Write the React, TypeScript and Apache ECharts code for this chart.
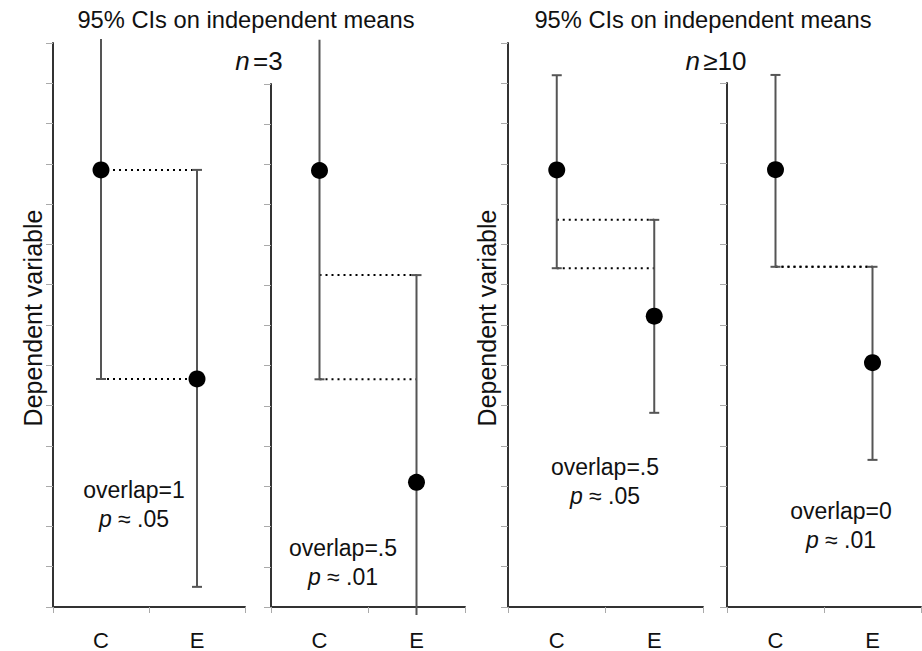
import { useEffect, useRef } from "react";
import * as echarts from "echarts";

// Groups on each x axis
const groups = ["C", "E"];

// Four panels: n=3 (overlap 1), n=3 (overlap .5), n≥10 (overlap .5), n≥10 (overlap 0)
const meansC = [10.85, 10.85, 10.85, 10.85];
const lowerC = [5.66, 5.66, 8.41, 8.44];
const upperC = [16.04, 16.04, 13.2, 13.2];
const meansE = [5.66, 3.1, 7.22, 6.06];
const lowerE = [0.5, -2.05, 4.82, 3.65];
const upperE = [10.85, 8.25, 9.61, 8.44];
const axisMax = [14, 13, 14, 13];

const overlapLabels = ["overlap=1", "overlap=.5", "overlap=.5", "overlap=0"];
const pValues = [".05", ".01", ".05", ".01"];
const panelTitle = "95% CIs on independent means";
const sampleSizes = ["=3", "≥10"];
const yName = "Dependent variable";

// vertical extent in which interval lines are still drawn
const visibleRange = [-0.2, 14.1];

const FONT = "'Liberation Sans', Arial, Helvetica, sans-serif";

const grids = [
  { left: 53, top: 43, width: 192, height: 564 },
  { left: 271, top: 84, width: 194, height: 523 },
  { left: 508, top: 43, width: 195, height: 564 },
  { left: 727, top: 83, width: 194, height: 524 },
];

const overlapPos = [
  [134, 490],
  [343, 548],
  [605, 467],
  [841, 511],
];

function buildOption() {
  const xAxis = grids.map((_, i) => ({
    type: "category",
    gridIndex: i,
    data: groups,
    boundaryGap: true,
    axisLine: { lineStyle: { color: "#333", width: 2 } },
    axisTick: { show: true, length: 6, lineStyle: { color: "#aaa", width: 1 } },
    axisLabel: { fontSize: 22, color: "#111", margin: 22, fontFamily: FONT },
  }));
  const yAxis = grids.map((_, i) => ({
    type: "value",
    gridIndex: i,
    min: 0,
    max: axisMax[i],
    interval: 1,
    axisLine: { show: true, lineStyle: { color: "#333", width: 2 } },
    axisTick: { show: true, length: 7, lineStyle: { color: "#aaa", width: 1 } },
    axisLabel: { show: false },
    splitLine: { show: false },
  }));

  const series: any[] = [];
  grids.forEach((_, i) => {
    // dotted guides at the lower limit of C and the upper limit of E
    series.push({
      type: "custom",
      xAxisIndex: i,
      yAxisIndex: i,
      clip: false,
      z: 2,
      encode: { x: [0, 1], y: 2 },
      data: [
        [0, 1, lowerC[i]],
        [0, 1, upperE[i]],
      ],
      renderItem: (_p: any, api: any) => {
        const y = api.value(2);
        const a = api.coord([0, y]);
        const b = api.coord([1, y]);
        return {
          type: "line",
          shape: { x1: a[0], y1: a[1], x2: b[0], y2: b[1] },
          style: { stroke: "#000", lineWidth: 2, lineDash: [2, 4] },
        };
      },
    });
    // confidence intervals
    series.push({
      type: "custom",
      xAxisIndex: i,
      yAxisIndex: i,
      clip: false,
      z: 3,
      encode: { x: 0, y: [1, 2] },
      data: [
        [0, lowerC[i], upperC[i]],
        [1, lowerE[i], upperE[i]],
      ],
      renderItem: (_p: any, api: any) => {
        const x = api.value(0);
        const lo = api.value(1);
        const hi = api.value(2);
        const loC = Math.max(lo, visibleRange[0]);
        const hiC = Math.min(hi, visibleRange[1]);
        const top = api.coord([x, hiC]);
        const bot = api.coord([x, loC]);
        const stroke = { stroke: "#555", lineWidth: 2 };
        const children: any[] = [
          { type: "line", shape: { x1: top[0], y1: top[1], x2: bot[0], y2: bot[1] }, style: stroke },
        ];
        const half = 5;
        if (hi === hiC) {
          children.push({
            type: "line",
            shape: { x1: top[0] - half, y1: top[1], x2: top[0] + half, y2: top[1] },
            style: stroke,
          });
        }
        if (lo === loC) {
          children.push({
            type: "line",
            shape: { x1: bot[0] - half, y1: bot[1], x2: bot[0] + half, y2: bot[1] },
            style: stroke,
          });
        }
        return { type: "group", children };
      },
    });
    // means
    series.push({
      type: "scatter",
      xAxisIndex: i,
      yAxisIndex: i,
      z: 5,
      symbolSize: 17,
      itemStyle: { color: "#000", opacity: 1 },
      data: [
        [0, meansC[i]],
        [1, meansE[i]],
      ],
    });
  });

  const graphic: any[] = [];
  [246, 703].forEach((cx, k) => {
    graphic.push({
      type: "text",
      x: cx,
      y: 20,
      style: {
        text: panelTitle,
        font: `23.7px ${FONT}`,
        fill: "#111",
        align: "center",
        verticalAlign: "middle",
      },
    });
    graphic.push({
      type: "text",
      x: [259, 716][k],
      y: 61,
      style: {
        text: `{i|n}{s| }{r|${sampleSizes[k]}}`,
        fontSize: 26,
        fontFamily: FONT,
        fill: "#111",
        align: "center",
        verticalAlign: "middle",
        rich: {
          i: { fontStyle: "italic", fontSize: 26, fontFamily: FONT, fill: "#111" },
          s: { fontSize: 12, fontFamily: FONT, fill: "#111" },
          r: { fontSize: 26, fontFamily: FONT, fill: "#111" },
        },
      },
    });
    graphic.push({
      type: "text",
      x: [33, 487][k],
      y: 318,
      rotation: Math.PI / 2,
      style: {
        text: yName,
        font: `25px ${FONT}`,
        fill: "#111",
        align: "center",
        verticalAlign: "middle",
      },
    });
  });
  overlapPos.forEach(([cx, cy], i) => {
    graphic.push({
      type: "text",
      x: cx,
      y: cy,
      style: {
        text: overlapLabels[i],
        font: `23px ${FONT}`,
        fill: "#111",
        align: "center",
        verticalAlign: "middle",
      },
    });
    graphic.push({
      type: "text",
      x: cx,
      y: cy + 29,
      style: {
        text: `{i|p}{r| ≈ ${pValues[i]}}`,
        fontSize: 23,
        fontFamily: FONT,
        fill: "#111",
        align: "center",
        verticalAlign: "middle",
        rich: {
          i: { fontStyle: "italic", fontSize: 23, fontFamily: FONT, fill: "#111" },
          r: { fontSize: 23, fontFamily: FONT, fill: "#111" },
        },
      },
    });
  });

  return {
    animation: false,
    backgroundColor: "#fff",
    grid: grids,
    xAxis,
    yAxis,
    series,
    graphic,
  };
}

export default function App() {
  const ref = useRef<HTMLDivElement>(null);
  useEffect(() => {
    if (!ref.current) return;
    const chart = echarts.init(ref.current, undefined, { renderer: "svg" });
    chart.setOption(buildOption() as any);
    return () => chart.dispose();
  }, []);
  return (
    <div
      ref={ref}
      style={{ position: "fixed", left: 0, top: 0, width: 922, height: 651 }}
    />
  );
}
